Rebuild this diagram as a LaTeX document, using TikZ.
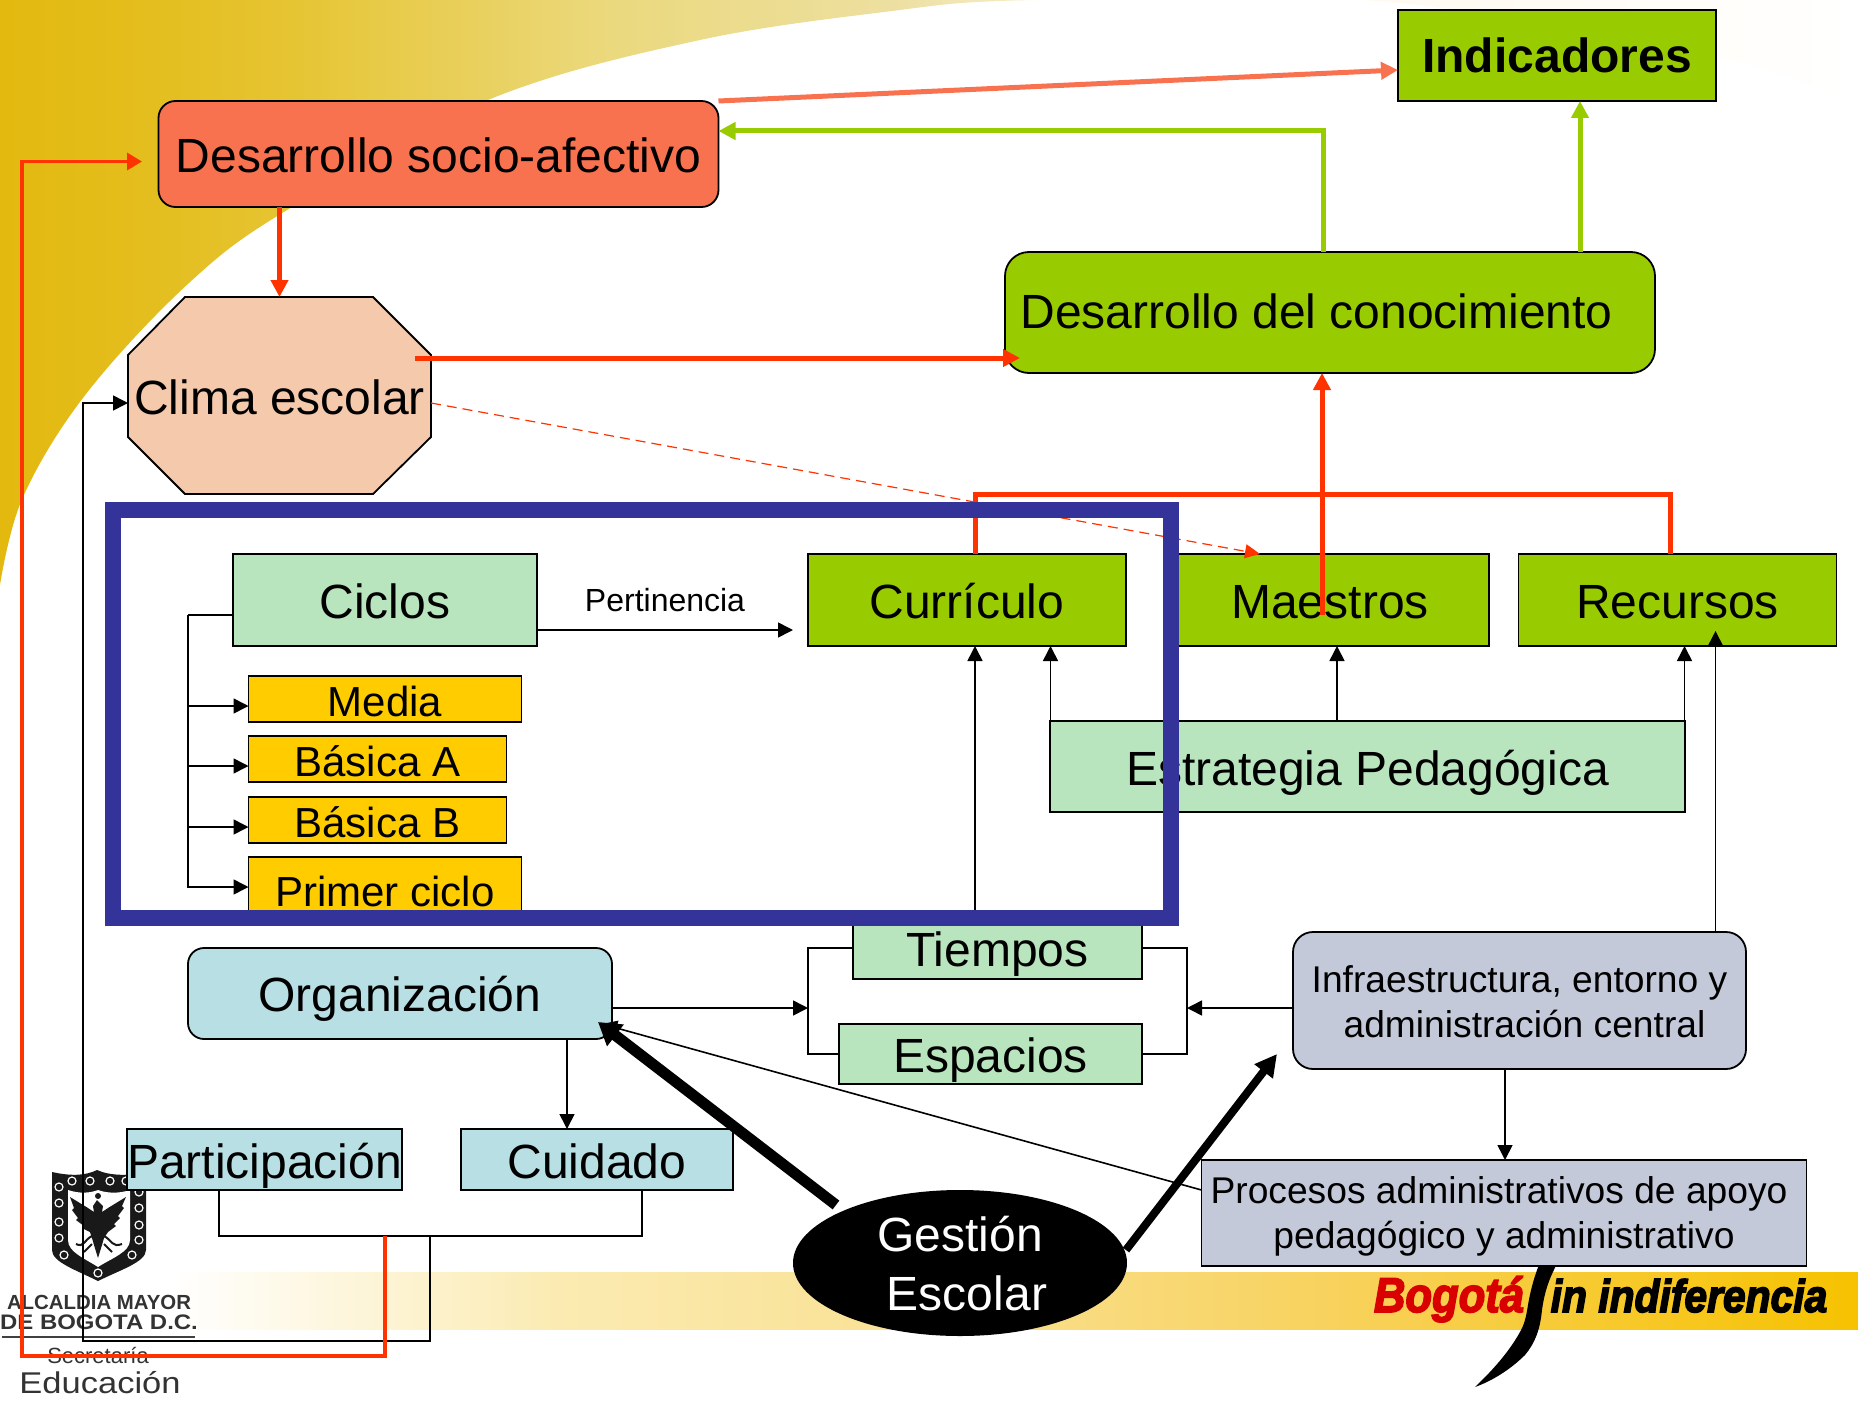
\documentclass[tikz,border=0pt]{standalone}
\usepackage{fontspec}
\usepackage{graphicx}
\setmainfont{Liberation Sans}
\newfontfamily\sloganfont[BoldItalicFeatures={FakeBold=3.5}]{Liberation Sans}
\usetikzlibrary{arrows.meta,shapes.geometric}
\definecolor{cG}{HTML}{99CC00}
\definecolor{cPG}{HTML}{B8E5BD}
\definecolor{cO}{HTML}{FFCC00}
\definecolor{cLB}{HTML}{B8DFE3}
\definecolor{cGB}{HTML}{C3C9D9}
\definecolor{cCo}{HTML}{F9724F}
\definecolor{cPe}{HTML}{F5C9AB}
\definecolor{cFr}{HTML}{333399}
\definecolor{cR}{HTML}{FF3300}
\definecolor{bgA}{HTML}{E3B90F}
\definecolor{bgB}{HTML}{E4BE1E}
\definecolor{bgC}{HTML}{E6C534}
\definecolor{bgD}{HTML}{EBD97E}
\definecolor{bgE}{HTML}{EDDFA0}
\definecolor{bgF}{HTML}{FAF3DC}
\definecolor{bgG}{HTML}{FFF9EE}
\definecolor{bdB}{HTML}{FBEBB2}
\definecolor{bdC}{HTML}{F9DF8C}
\definecolor{bdD}{HTML}{F8D15A}
\definecolor{bdE}{HTML}{F6C200}
% TikZ fits the middle 50bp of a 100bp shading to the path
\pgfdeclarehorizontalshading{goldbg}{100bp}{
  color(0bp)=(bgA); color(25bp)=(bgA); color(29bp)=(bgB); color(33bp)=(bgC); color(41.5bp)=(bgD);
  color(49bp)=(bgE); color(54.5bp)=(bgF); color(60bp)=(bgG); color(75bp)=(white); color(100bp)=(white)}
\pgfdeclarehorizontalshading{bandbg}{100bp}{
  color(0bp)=(white); color(25bp)=(white); color(36.5bp)=(bdB); color(49.5bp)=(bdC); color(60bp)=(bdD); color(75bp)=(bdE); color(100bp)=(bdE)}
\newcommand{\mlines}[2]{\raisebox{#1}[0pt][0pt]{\begin{tabular}{@{}c@{}}#2\end{tabular}}}
\tikzset{
  x=.5pt,y=-.5pt,
  bx/.style={draw=black,line width=.9pt,inner sep=0pt,outer sep=0pt,rectangle,text=black,align=center},
  f24/.style={font=\fontsize{24}{28}\selectfont,text height=24pt,text depth=5.1pt},
  f21/.style={font=\fontsize{21}{25}\selectfont,text height=20pt,text depth=3pt},
  f18/.style={font=\fontsize{18.6}{22.5}\selectfont},
  thinl/.style={draw=black,line width=.8pt},
  thina/.style={thinl,-{Triangle[length=7.5pt,width=7.5pt]}},
  redl/.style={draw=cR,line width=2.5pt},
  reda/.style={redl,-{Triangle[length=8.5pt,width=8.5pt]}},
  grna/.style={draw=cG,line width=2.5pt,-{Triangle[length=8.5pt,width=8.5pt]}},
  cora/.style={draw=cCo,line width=2.5pt,-{Triangle[length=8.5pt,width=8.5pt]}},
  logotext/.style={text=black!80,inner sep=0pt,outer sep=0pt},
  orn/.style={draw=white,line width=.6pt,fill=none}
}
\begin{document}
\begin{tikzpicture}
\useasboundingbox (0,0) rectangle (1858,1402);
% backgrounds
\path[shading=goldbg] (0,0) -- (1858,0) -- plot[smooth,tension=.6] coordinates
  {(1858,105) (1717,57) (1400,3) (1150,0) (1000,1) (900,10) (700,40) (488,100) (287,210) (189,283) (86,394) (23,497) (0,585)} -- cycle;
\path[shading=bandbg] (170,1272) rectangle (1858,1329);
% city shield
\fill[black!90] (52,1172) .. controls (70,1176) and (85,1176) .. (97,1170) .. controls (110,1176) and (130,1176) .. (146,1172) -- (146,1250) .. controls (146,1262) and (120,1270) .. (98,1281) .. controls (76,1270) and (52,1262) .. (52,1250) -- cycle;
\fill[white] (68,1190) .. controls (80,1194) and (90,1193) .. (98,1190) .. controls (106,1193) and (118,1194) .. (130,1190) -- (130,1240) .. controls (130,1252) and (112,1258) .. (98,1267) .. controls (84,1258) and (68,1252) .. (68,1240) -- cycle;
\fill[black!90] (97,1200) -- (93,1206) -- (94,1212) -- (88,1208) -- (70,1197) -- (74,1208) -- (72,1210) -- (78,1218) -- (76,1220) -- (84,1226) -- (82,1228) -- (90,1232) -- (92,1238) -- (94,1245) -- (98,1258) -- (102,1245) -- (104,1238) -- (108,1232) -- (116,1226) -- (114,1224) -- (120,1218) -- (118,1216) -- (124,1208) -- (122,1206) -- (126,1197) -- (108,1208) -- (102,1212) -- (103,1206) -- cycle;
\draw[black!90,line width=1pt] (92,1236) .. controls (84,1240) and (84,1248) .. (76,1244) (104,1236) .. controls (112,1240) and (112,1248) .. (122,1244) (92,1244) -- (84,1252) (104,1244) -- (112,1252);
\fill[black!90] (98,1196) circle (3);
\foreach \p in {(72,1181),(90,1181),(110,1181),(126,1181),(59,1187),(59,1203),(59,1222),(59,1238),(139,1192),(139,1208),(139,1225),(139,1240),(64,1255),(132,1255),(98,1273)}
  \draw[orn] \p circle (4);
% logo texts
\node[logotext,font=\bfseries\fontsize{10.2}{12}\selectfont] (alc) at (99,1302) {ALCALDIA MAYOR};
\node[logotext,font=\bfseries\fontsize{10.5}{12}\selectfont] (dbo) at (99,1322) {\scalebox{1.14}[1]{DE BOGOTA D.C.}};
\draw[black!75,line width=.8pt] (alc.west |- 0,1337) ++(-5,0) -- ++(193,0);
\node[logotext,font=\fontsize{11}{13}\selectfont] (sec) at (98,1355) {Secretaría};
\node[logotext,font=\fontsize{15}{18}\selectfont] (edu) at (100,1383) {\scalebox{1.15}[1]{Educación}};
% slogan
\fill[black] (1540,1262) .. controls (1533,1280) and (1530,1293) .. (1528,1305) .. controls (1526,1318) and (1524,1325) .. (1520,1332) .. controls (1510,1350) and (1495,1368) .. (1475,1387) .. controls (1500,1378) and (1518,1362) .. (1525,1355) .. controls (1535,1343) and (1540,1330) .. (1542,1310) .. controls (1544,1295) and (1548,1280) .. (1558,1262) -- cycle;
\node[inner sep=0pt,text=red!85!black,font=\sloganfont\bfseries\itshape\fontsize{21.8}{24}\selectfont,anchor=base] (bog) at (1449,1312) {\scalebox{1}[1.12]{Bogotá}};
\node[inner sep=0pt,text=black,font=\sloganfont\bfseries\itshape\fontsize{20.4}{24}\selectfont,anchor=base] (sin) at (1689,1312) {\scalebox{1}[1.12]{in indiferencia}};
% boxes
\node[bx,fill=cG,f24,text height=21.7pt,minimum width=159pt,minimum height=45.5pt] (ind) at (1557,55.5) {\bfseries Indicadores};
\node[bx,fill=cCo,f24,rounded corners=8.5pt,minimum width=280pt,minimum height=53pt] (soc) at (438.5,154) {Desarrollo socio-afectivo};
\node[bx,fill=cG,f24,text height=21.7pt,text depth=5.7pt,rounded corners=12pt,minimum width=325pt,minimum height=60.5pt] (dc) at (1330,312.5) {Desarrollo del conocimiento\hspace*{13.5pt}};
\draw[draw=black,line width=.9pt,fill=cPe] (185,297) -- (373,297) -- (431,355) -- (431,437) -- (373,494) -- (185,494) -- (128,437) -- (128,355) -- cycle;
\node[inner sep=0pt,outer sep=0pt,rectangle,f24,minimum width=151.5pt,minimum height=98.5pt] (cli) at (279.5,395.5) {Clima escolar};
\node[bx,fill=cPG,f24,minimum width=152pt,minimum height=46pt] (cic) at (385,600) {Ciclos};
\node[bx,fill=cG,f24,minimum width=159pt,minimum height=46pt] (cur) at (967,600) {Currículo};
\node[bx,fill=cG,f24,minimum width=159pt,minimum height=46pt] (mae) at (1330,600) {Maestros};
\node[bx,fill=cG,f24,minimum width=159pt,minimum height=46pt] (rec) at (1677.5,600) {Recursos};
\node[bx,fill=cO,f21,minimum width=136.5pt,minimum height=23pt] (med) at (385,699) {Media};
\node[bx,fill=cO,f21,minimum width=129pt,minimum height=23pt] (baa) at (377.5,759) {Básica A};
\node[bx,fill=cO,f21,minimum width=129pt,minimum height=23pt] (bab) at (377.5,820) {Básica B};
\node[bx,fill=cO,f21,minimum width=136.5pt,minimum height=32pt] (pri) at (385,889) {Primer ciclo};
\node[bx,fill=cPG,f24,minimum width=317.5pt,minimum height=45.5pt] (est) at (1367.5,766.5) {Estrategia Pedagógica};
\node[bx,fill=cPG,f24,minimum width=144.5pt,minimum height=31pt] (tie) at (997.5,948) {Tiempos};
\node[bx,fill=cPG,f24,minimum width=151.5pt,minimum height=30pt] (esp) at (990.5,1054) {Espacios};
\node[bx,fill=cLB,f24,text height=23pt,rounded corners=8pt,minimum width=212pt,minimum height=45.5pt] (org) at (400,993.5) {Organización};
\node[bx,fill=cGB,f18,rounded corners=10pt,minimum width=226.5pt,minimum height=68.5pt] (inf) at (1519.5,1000.5) {\mlines{-7pt}{Infraestructura, entorno y\\\hspace*{5pt}administración central}};
\node[bx,fill=cLB,f24,minimum width=136.5pt,minimum height=30.5pt] (par) at (264.5,1159.5) {Participación};
\node[bx,fill=cLB,f24,minimum width=136pt,minimum height=30.5pt] (cui) at (597,1159.5) {Cuidado};
\node[bx,fill=cGB,f18,minimum width=302.5pt,minimum height=53pt] (pro) at (1504,1213) {\mlines{-6.4pt}{Procesos administrativos de apoyo\hspace*{5pt}\\pedagógico y administrativo}};
\node[ellipse,fill=black,text=white,inner sep=0pt,outer sep=0pt,minimum width=167pt,minimum height=73pt,font=\fontsize{24}{29.5}\selectfont] (ges) at (960,1263) {\mlines{-9.2pt}{Gestión\\\hspace*{7pt}Escolar}};
\node[inner sep=0pt,font=\fontsize{16}{19}\selectfont] (pert) at (665,600) {Pertinencia};
% free ends and corners
\coordinate (soctip) at (142,161.5);
\coordinate (cr) at (415,358);
\coordinate (cd) at (1020,358);
\coordinate (rtl) at (975,494);
\coordinate (rtr) at (1670,494);
\coordinate (mr) at (1322,615);
\coordinate (grn) at (1323,131);
\coordinate (cl) at (188,615);
\coordinate (pe) at (793,630);
\coordinate (brl) at (808,1008);
\coordinate (brr) at (1187,1008);
\coordinate (jl) at (219,1236);
\coordinate (jn) at (430,1236);
\coordinate (jr) at (642,1236);
\coordinate (lpb) at (83,1341);
\coordinate (rj) at (385,1236);
\coordinate (rb) at (22,1356);
\coordinate (rectip) at (1715.5,631);
\coordinate (orgtip) at (598,1022);
\coordinate (orgth) at (602,1024);
\coordinate (inftip) at (1277,1054);
\coordinate (gs1) at (836,1205);
\coordinate (gs2) at (1126,1250);
% upper connectors
\draw[cora] (soc.north east) -- (ind.west |- 0,70);
\draw[grna] (dc.north -| grn) -- (grn) -- (soc.east |- grn);
\draw[grna] (dc.north -| 1580,0) -- (ind.south -| 1580,0);
\draw[reda] (soc.south -| 279.5,0) -- (cli.north -| 279.5,0);
\draw[reda] (cr) -- (cd);
\draw[redl] (cur.north -| rtl) -- (rtl) -- (rtr) -- (rec.north -| rtr);
\draw[reda] (mr) -- (dc.south -| mr);
\draw[draw=cR,line width=.6pt,dash pattern=on 5pt off 3pt,-{Triangle[length=7.5pt,width=7pt]}] (cli.east |- 0,403) -- (mae.north -| 1260,0);
% left loop
\draw[thinl] (par.south -| jl) -- (jl) -- (jr) -- (cui.south -| jr);
\draw[thina] (jn) |- (lpb) |- (cli.west |- 0,403);
\draw[draw=cR,line width=1.7pt,-{Triangle[length=7.5pt,width=8.5pt]}] (rj) |- (rb) |- (soctip);
% ciclos
\draw[thinl] (cic.west |- cl) -- (cl);
\draw[thina] (cl) |- (pri.west |- 0,887);
\draw[thina] (cl |- 0,706) -- (med.west |- 0,706);
\draw[thina] (cl |- 0,766) -- (baa.west |- 0,766);
\draw[thina] (cl |- 0,827) -- (bab.west |- 0,827);
\draw[thina] (cic.east |- pe) -- (pe);
% strategy and resources
\draw[thina] (tie.north -| 975,0) -- (cur.south -| 975,0);
\draw[thina] (est.north -| 1050.5,0) -- (cur.south -| 1050.5,0);
\draw[thina] (est.north -| 1337,0) -- (mae.south -| 1337,0);
\draw[thina] (est.north -| 1684.5,0) -- (rec.south -| 1684.5,0);
\draw[thina] (inf.north -| rectip) -- (rectip);
% tiempos, espacios
\draw[thinl] (tie.west) -| (brl) |- (esp.west);
\draw[thinl] (tie.east) -| (brr) |- (esp.east);
\draw[thina] (org.east |- brl) -- (brl);
\draw[thina] (inf.west |- brr) -- (brr);
\draw[thina] (org.south -| 567,0) -- (cui.north -| 567,0);
\draw[thina] (inf.south -| 1505,0) -- (pro.north -| 1505,0);
\draw[thina] (pro.west |- 0,1190) -- (orgth);
% gestion
\draw[draw=black,line width=5.5pt,-{Triangle[length=11pt,width=13pt]}] (gs1) -- (orgtip);
\draw[draw=black,line width=4pt,-{Triangle[length=11pt,width=11pt]}] (gs2) -- (inftip);
% blue frame
\node[draw=cFr,line width=8pt,inner sep=0pt,outer sep=0pt,minimum width=529pt,minimum height=204.25pt] (frm) at (642,714) {};
\end{tikzpicture}
\end{document}
